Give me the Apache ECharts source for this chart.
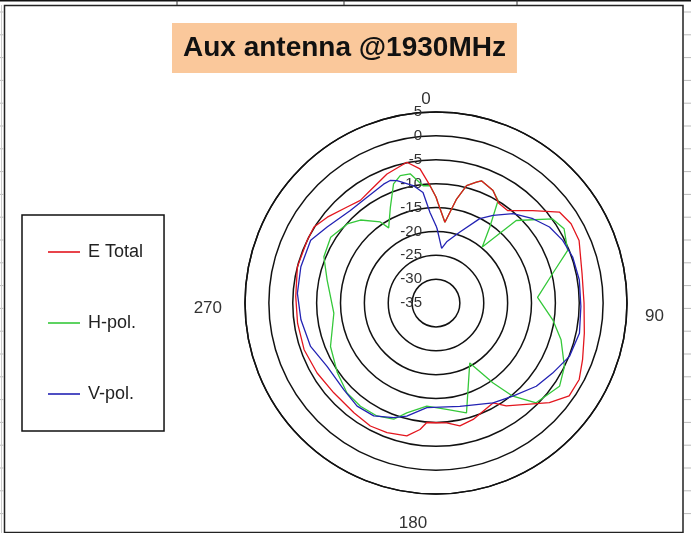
<!DOCTYPE html>
<html>
<head>
<meta charset="utf-8">
<script src="https://cdn.jsdelivr.net/npm/echarts@6/dist/echarts.min.js"></script>
<style>html,body{margin:0;padding:0;background:#fff;}#c{width:691px;height:533px;}</style>
</head>
<body>
<div id="c"></div>
<script>
// ---- data (angle in degrees clockwise from top, level in dB) ----
const titleText = 'Aux antenna @1930MHz';
const seriesNames = ['E Total', 'H-pol.', 'V-pol.'];
const radialTicks = [-35, -30, -25, -20, -15, -10, -5, 0, 5];
const angleTicks = [0, 90, 180, 270];

const eTotalAngles = [0, 1.1, 6.3, 11.2, 14.6, 18.5, 20.4, 26.9, 32, 37.9, 46.3, 53.6, 59.6, 66.4, 78.6, 90, 101.5, 111.1, 118.1, 124.9, 131.3, 145.7, 150.3, 162.3, 169, 174.9, 184.4, 187.2, 192.4, 200.7, 208.1, 216.8, 228.7, 239.5, 250.5, 261.7, 272.6, 284.6, 296, 301.9, 308.3, 317.2, 323.6, 329.7, 339.2, 348.3, 353.2, 357.1, 360];
const eTotalValues = [-12.8, -14.0, -18.0, -12.8, -9.6, -8.3, -7.7, -8.6, -10.3, -10.5, -7.0, -2.9, -2.2, -2.3, -3.8, -4.0, -3.3, -2.1, -1.0, -1.0, -3.4, -8.9, -10.9, -9.4, -8.8, -9.8, -9.9, -8.3, -6.5, -6.0, -5.8, -6.3, -6.5, -6.1, -5.7, -5.7, -5.6, -5.0, -5.0, -4.9, -6.0, -7.6, -8.3, -7.7, -6.1, -4.9, -6.7, -10.4, -12.8];

const hPolAngles = [0, 1.1, 6.3, 11.2, 14.6, 18.5, 20.4, 26.9, 31.2, 35.3, 39.6, 44.2, 54.2, 59.9, 68.2, 75.8, 86.8, 98.2, 106.4, 116.3, 124, 134.9, 140.5, 144.5, 150.6, 164.5, 174.3, 185.1, 194.9, 200, 207.6, 216.2, 224.7, 234.7, 247.6, 264.3, 281.9, 292.4, 302, 311.7, 317.7, 325.5, 327.8, 334.5, 340.4, 344.3, 348.7, 353.7, 357.1, 360];
const hPolValues = [-12.8, -14.0, -18.0, -12.8, -9.6, -8.3, -7.7, -8.6, -9.9, -15.5, -19.8, -10.9, -4.9, -4.0, -5.3, -9.8, -13.7, -10.3, -7.7, -5.0, -3.8, -5.4, -9.7, -14.4, -20.6, -11.1, -12.6, -13.3, -11.2, -9.1, -8.3, -8.2, -8.5, -9.7, -11.1, -13.5, -11.7, -9.6, -9.0, -10.1, -11.5, -14.4, -16.4, -12.8, -8.5, -7.3, -7.4, -10.3, -10.4, -12.8];

const vPolAngles = [0, 0.8, 5.9, 9.9, 18.6, 27.4, 33.1, 40.8, 49, 56.2, 63.7, 71.4, 80.9, 91.4, 101.9, 111.8, 121, 129.7, 140.5, 150.3, 167, 185, 194.5, 200.3, 208.9, 217.4, 226.8, 239.8, 250.9, 262.9, 274, 285, 296.6, 304.9, 317.2, 326.9, 336.2, 339.5, 342.3, 349, 353.3, 356.2, 360];
const vPolValues = [-18.8, -19.4, -23.5, -22.0, -19.3, -15.1, -13.1, -10.3, -8.1, -6.4, -5.4, -4.8, -4.6, -4.65, -4.3, -4.9, -6.5, -7.7, -9.7, -10.9, -12.8, -13.0, -10.55, -9.4, -8.0, -7.8, -8.5, -8.6, -7.2, -6.5, -5.9, -5.7, -5.65, -7.2, -8.6, -8.55, -7.8, -7.6, -8.1, -9.95, -11.7, -16.0, -18.8];

const seriesColors = ['#e3161e', '#35c83a', '#2323b4'];

function pairs(angles, values) { return angles.map((a, i) => [values[i], a]); }

const chart = echarts.init(document.getElementById('c'), null, {renderer: 'canvas'});
const FONT = 'Arial, "Liberation Sans", sans-serif';

// decorative spreadsheet frame
const deco = [];
deco.push({type: 'rect', shape: {x: 4.5, y: 5.5, width: 678.5, height: 527}, style: {fill: 'none', stroke: '#222', lineWidth: 1.5}, z: -1});
deco.push({type: 'line', shape: {x1: 0, y1: 0.5, x2: 691, y2: 0.5}, style: {stroke: '#111', lineWidth: 2}});
[177, 344, 517].forEach(x => deco.push({type: 'line', shape: {x1: x, y1: 0, x2: x, y2: 5}, style: {stroke: '#333', lineWidth: 1}}));
for (let y = 12; y < 533; y += 22.8) {
  deco.push({type: 'line', shape: {x1: 0, y1: y, x2: 4, y2: y}, style: {stroke: '#bbb', lineWidth: 1}});
  deco.push({type: 'line', shape: {x1: 684, y1: y, x2: 691, y2: y}, style: {stroke: '#bbb', lineWidth: 1}});
}
deco.push({type: 'line', shape: {x1: 1.5, y1: 5, x2: 1.5, y2: 533}, style: {stroke: '#ccc', lineWidth: 1}});

const option = {
  backgroundColor: '#fff',
  animation: false,
  title: {
    text: titleText,
    left: 172, top: 23,
    padding: [11, 11, 11, 11],
    backgroundColor: '#fac89b',
    textStyle: {fontFamily: FONT, fontSize: 28, fontWeight: 'bold', color: '#111', lineHeight: 28}
  },
  legend: {
    orient: 'vertical',
    left: 22, top: 215,
    padding: [28, 21, 28, 26],
    icon: 'rect',
    itemWidth: 32, itemHeight: 1.6, itemGap: 53,
    borderColor: '#111', borderWidth: 1.5,
    backgroundColor: '#fff',
    data: seriesNames,
    textStyle: {fontFamily: FONT, fontSize: 18, color: '#222', padding: [0, 0, 0, 3], lineHeight: 18}
  },
  polar: {center: [436, 303], radius: 191},
  angleAxis: {
    type: 'value', min: 0, max: 360, interval: 90,
    startAngle: 90, clockwise: true,
    axisLine: {lineStyle: {color: '#111', width: 1.5}},
    axisTick: {show: false},
    splitLine: {show: false},
    axisLabel: {
      margin: 4,
      formatter: v => ({0: '{t|0}', 90: '{r|90}', 180: '{b|180}', 270: '{l|270}'})[v] || '',
      color: '#333', fontFamily: FONT, fontSize: 17,
      rich: {
        t: {fontFamily: FONT, fontSize: 17, color: '#333', padding: [0, 20, 0, 0]},
        r: {fontFamily: FONT, fontSize: 17, color: '#333', padding: [27, 0, 0, 14]},
        b: {fontFamily: FONT, fontSize: 17, color: '#333', padding: [17, 46, 0, 0]},
        l: {fontFamily: FONT, fontSize: 17, color: '#333', padding: [10, 19, 0, 0]}
      }
    }
  },
  radiusAxis: {
    type: 'value', min: -35, max: 5, interval: 5,
    axisLine: {show: false},
    axisTick: {show: false},
    splitLine: {lineStyle: {color: '#111', width: 1.5}},
    axisLabel: {margin: 14, showMinLabel: true, showMaxLabel: true, color: '#333', fontFamily: FONT, fontSize: 15}
  },
  graphic: deco,
  series: [
    {name: seriesNames[0], type: 'line', coordinateSystem: 'polar', symbol: 'none', data: pairs(eTotalAngles, eTotalValues), lineStyle: {color: seriesColors[0], width: 1.3}, itemStyle: {color: seriesColors[0]}, z: 3},
    {name: seriesNames[1], type: 'line', coordinateSystem: 'polar', symbol: 'none', data: pairs(hPolAngles, hPolValues), lineStyle: {color: seriesColors[1], width: 1.3}, itemStyle: {color: seriesColors[1]}, z: 2},
    {name: seriesNames[2], type: 'line', coordinateSystem: 'polar', symbol: 'none', data: pairs(vPolAngles, vPolValues), lineStyle: {color: seriesColors[2], width: 1.3}, itemStyle: {color: seriesColors[2]}, z: 4}
  ]
};
chart.setOption(option);
</script>
</body>
</html>
